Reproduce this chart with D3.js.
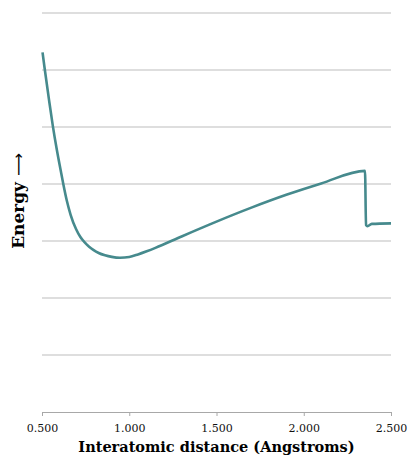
<!DOCTYPE html>
<html><head><meta charset="utf-8">
<script src="https://cdn.jsdelivr.net/npm/d3@7"></script>
<style>body{margin:0;background:#fff}</style>
</head><body>
<script>
const distances = [0.503,0.515,0.54,0.562,0.585,0.607,0.622,0.642,0.664,0.695,0.72,0.746,0.77,0.794,0.825,0.861,0.90,0.947,1.00,1.05,1.10,1.15,1.30,1.50,1.70,1.90,2.10,2.351,2.357,2.365,2.39,2.50];
const energies  = [6.31,6.03,5.48,5.02,4.60,4.24,4.00,3.71,3.46,3.21,3.07,2.97,2.90,2.845,2.79,2.75,2.722,2.707,2.72,2.765,2.82,2.88,3.08,3.34,3.585,3.81,4.01,4.23,3.28,3.26,3.30,3.31];
const xTicks = [0.5,1.0,1.5,2.0,2.5];
const yGrid = [1,2,3,4,5,6,7];

const W=409,H=460;
const svg=d3.select("body").append("svg").attr("width",W).attr("height",H);
const x=d3.scaleLinear().domain([0.5,2.5]).range([42,391]);
const y=d3.scaleLinear().domain([0,7]).range([412,13]);

svg.append("g").selectAll("line").data(yGrid).join("line")
  .attr("x1",x(0.5)).attr("x2",x(2.5)).attr("y1",d=>y(d)).attr("y2",d=>y(d))
  .attr("stroke","#bdbdbd").attr("stroke-width",1);

const xa=svg.append("g").attr("transform",`translate(0,${y(0)})`)
  .call(d3.axisBottom(x).tickValues(xTicks).tickFormat(d3.format(".3f")).tickSize(4).tickPadding(8));
xa.selectAll("path,line").attr("stroke","#a8a8a8");
xa.selectAll("text").attr("font-family","'DejaVu Serif', serif").attr("font-size",11).attr("fill","#111");

const data=distances.map((d,i)=>[d,energies[i]]);
svg.append("path").datum(data)
  .attr("d",d3.line().x(d=>x(d[0])).y(d=>y(d[1])).curve(d3.curveMonotoneX))
  .attr("fill","none").attr("stroke","#468a8d").attr("stroke-width",2.6).attr("stroke-linejoin","round");

svg.append("text").attr("x",216.5).attr("y",452).attr("text-anchor","middle")
  .attr("font-family","'DejaVu Serif', serif").attr("font-weight","bold").attr("font-size",14.5).attr("fill","#000")
  .text("Interatomic distance (Angstroms)");

const yl=svg.append("text").attr("transform","translate(24,201) rotate(-90)").attr("text-anchor","middle")
  .attr("font-family","'DejaVu Serif', serif").attr("font-size",17).attr("fill","#000");
yl.append("tspan").attr("font-weight","bold").text("Energy ");
yl.append("tspan").attr("font-family","'DejaVu Sans', sans-serif").attr("font-size",16).text("⟶");
</script>
</body></html>
